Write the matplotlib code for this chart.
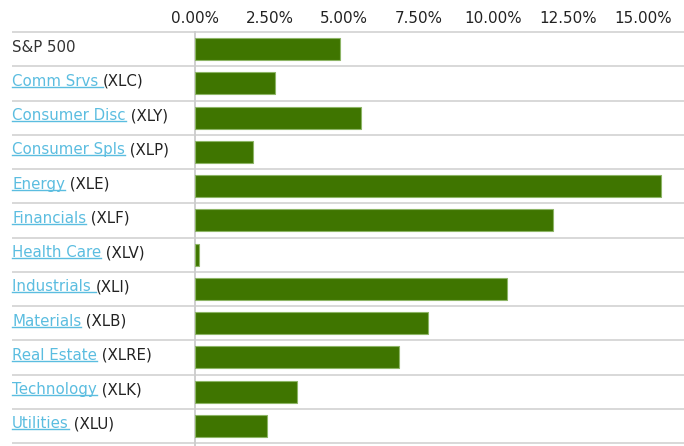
import matplotlib.pyplot as plt
from matplotlib.lines import Line2D

# sector performance (%)
names = ["S&P 500", "Comm Srvs ", "Consumer Disc", "Consumer Spls", "Energy",
         "Financials", "Health Care", "Industrials ", "Materials",
         "Real Estate", "Technology", "Utilities"]
tickers = ["", "(XLC)", "(XLY)", "(XLP)", "(XLE)", "(XLF)", "(XLV)",
           "(XLI)", "(XLB)", "(XLRE)", "(XLK)", "(XLU)"]
values = [4.86, 2.68, 5.57, 1.95, 15.60, 11.98, 0.12, 10.44, 7.82, 6.85, 3.42, 2.42]
xticks = [0, 2.5, 5, 7.5, 10, 12.5, 15]

W, H = 684, 446
fig = plt.figure(figsize=(W / 100, H / 100), dpi=100)
plt.rcParams['font.family'] = ['DejaVu Sans']

x0, top, bot = 195, 32, 443
ax = fig.add_axes([x0 / W, 1 - bot / H, 1 - x0 / W, (bot - top) / H])

n = len(names)
ys = [i + 0.5 for i in range(n)]
ax.barh(ys, values, height=0.64, color='#3f7500', edgecolor='#8db566',
        linewidth=0.8, zorder=3)

ax.set_ylim(n, 0)
ax.set_xlim(0, 16.38)
ax.set_xticks(xticks)
ax.set_xticklabels([f"{t:.2f}%" for t in xticks])
ax.xaxis.tick_top()
ax.tick_params(axis='x', length=0, pad=4.5, labelsize=10.9, labelcolor='#222222')
ax.set_yticks([])
for s in ax.spines.values():
    s.set_visible(False)

# row separators run into the label area
tr = ax.get_yaxis_transform()
ax.hlines(range(n + 1), (12 - x0) / (W - x0), 1, transform=tr, color='#d6d6d6',
          linewidth=1.3, clip_on=False, zorder=1)
ax.axvline(0, ymin=-0.01, ymax=1, color='#cccccc', linewidth=1.3, clip_on=False, zorder=2)

link = '#5bbde0'
texts = []
row_h = (bot - top) / n
for i, (nm, tk) in enumerate(zip(names, tickers)):
    ypix = top + (i + 0.5) * row_h - 2
    if tk == "":
        fig.text(12 / W, 1 - ypix / H, nm, fontsize=10.8, color='#333333', va='center')
        continue
    t = fig.text(12 / W, 1 - ypix / H, nm, fontsize=10.8, color=link, va='center')
    texts.append(t)
    sep = "" if nm.endswith(" ") else " "
    ax.annotate(sep + tk, xy=(1, 0.5), xycoords=t, fontsize=10.8,
                color='#222222', va='center', ha='left')

# underline the link parts
fig.canvas.draw()
r = fig.canvas.get_renderer()
for t in texts:
    bb = t.get_window_extent(r)
    yl = bb.y0 + 2.0
    fig.add_artist(Line2D([bb.x0 / W, bb.x1 / W], [yl / H, yl / H],
                          color=link, linewidth=1.0))

fig.savefig("out.png", dpi=100)
